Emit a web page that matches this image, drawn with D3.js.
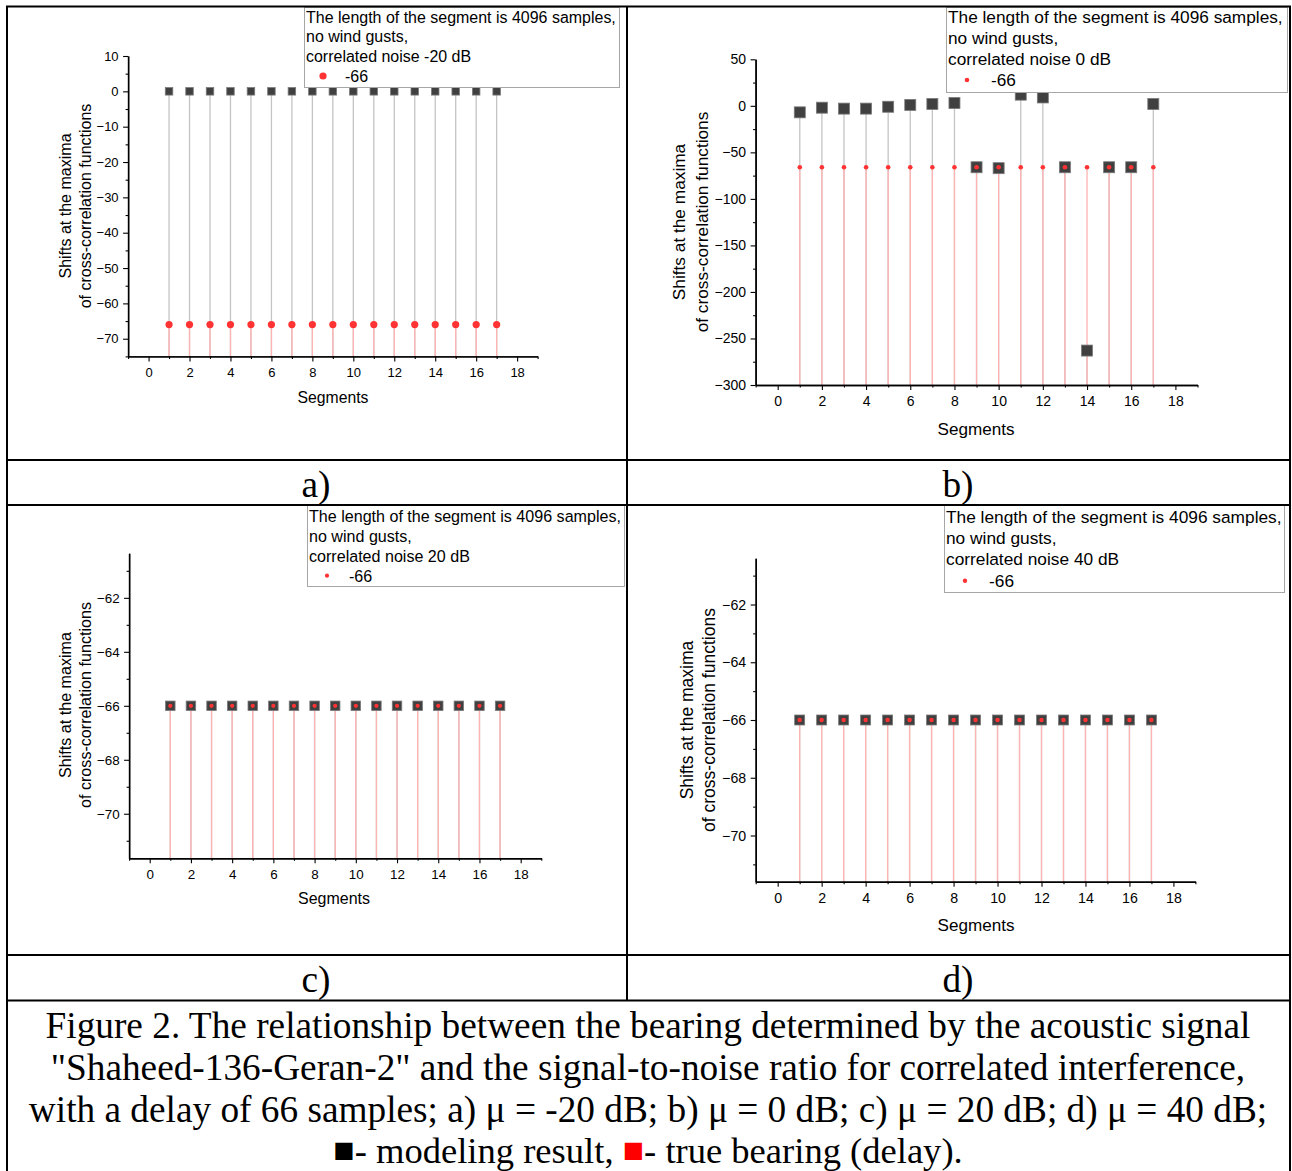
<!DOCTYPE html>
<html><head><meta charset="utf-8">
<script src="https://cdn.jsdelivr.net/npm/d3@7"></script>
<style>
body{margin:0;background:#fff}
svg{display:block}
.sans{font-family:"Liberation Sans",Arial,sans-serif}
.serif{font-family:"Liberation Serif","Times New Roman",serif}
</style>
</head><body>
<svg id="chart" width="1292" height="1171"></svg>
<script>
// ---------------- data ----------------
const segments   = [1,2,3,4,5,6,7,8,9,10,11,12,13,14,15,16,17];
const trueDelay  = [-66,-66,-66,-66,-66,-66,-66,-66,-66,-66,-66,-66,-66,-66,-66,-66,-66];
const resultA    = [0,0,0,0,0,0,0,0,0,0,0,0,0,0,0,0,0];
const resultB    = [-7,-2,-3,-3,-1,1,2,3,-66,-67,12,9,-66,-263,-66,-66,2];
const resultC    = [-66,-66,-66,-66,-66,-66,-66,-66,-66,-66,-66,-66,-66,-66,-66,-66,-66];
const resultD    = [-66,-66,-66,-66,-66,-66,-66,-66,-66,-66,-66,-66,-66,-66,-66,-66,-66];
const xTicks     = [0,2,4,6,8,10,12,14,16,18];
const xMinor     = [-1,1,3,5,7,9,11,13,15,17,19];
const yTicksA    = [10,0,-10,-20,-30,-40,-50,-60,-70];
const yMinorA    = [5,-5,-15,-25,-35,-45,-55,-65,-75];
const yTicksB    = [50,0,-50,-100,-150,-200,-250,-300];
const yMinorB    = [25,-25,-75,-125,-175,-225,-275];
const yTicksCD   = [-62,-64,-66,-68,-70];
const yMinorCD   = [-61,-63,-65,-67,-69,-71];
const noiseLevels = ["-20 dB","0 dB","20 dB","40 dB"];
const legendValue = "-66";
const panelLabels = ["a)","b)","c)","d)"];
const xTitle = "Segments";
const yTitle = ["Shifts at the maxima","of cross-correlation functions"];
const legendHead = ["The length of the segment is 4096 samples,","no wind gusts,"];
const captionLines = [
  "Figure 2. The relationship between the bearing determined by the acoustic signal",
  "\"Shaheed-136-Geran-2\" and the signal-to-noise ratio for correlated interference,",
  "with a delay of 66 samples; a) \u03bc = -20 dB; b) \u03bc = 0 dB; c) \u03bc = 20 dB; d) \u03bc = 40 dB;"
];
const captionLegend = [["\u25A0","#000"],["- modeling result, ","#000"],["\u25A0","#ff0000"],["- true bearing (delay).","#000"]];

// ---------------- layout ----------------
const svg = d3.select("#chart");
svg.append("rect").attr("width",1292).attr("height",1171).attr("fill","#fff");

function measure(txt, size, cls){
  const t = svg.append("text").attr("class",cls).attr("font-size",size).text(txt);
  const w = t.node().getComputedTextLength(); t.remove(); return w;
}
function fit(txt, width, cls){ return 100*width/measure(txt,100,cls); }

const panels = [
  {res:resultA, xr:[128.1,537.6], yr:[356.4,56], dom:[-75,10], yt:yTicksA, ym:yMinorA, sq:7.5, r:3.6,
   box:{x:304,y:7,w:315,h:80}, ly:[10,29.5,49,69], lw:310, dotDx:19, txtDx:41,
   ylx:[64.5,85], yc:206, segX:333, segY:397, segW:71, ylW:205, tfs:13},
  {res:resultB, xr:[755.6,1197.5], yr:[385,59.3], dom:[-300,50], yt:yTicksB, ym:yMinorB, sq:11, r:2.3,
   box:{x:946,y:7,w:341,h:85}, ly:[10,31,52,73], lw:335, dotDx:21, txtDx:45,
   ylx:[678.5,701.7], yc:222, segX:976, segY:429, segW:77, ylW:221, tfs:14},
  {res:resultC, xr:[129.1,541.3], yr:[858.3,553.3], dom:[-71.65,-60.35], yt:yTicksCD, ym:yMinorCD, sq:9.5, r:2.1,
   box:{x:307,y:505,w:317,h:81}, ly:[11,31,50.7,70.7], lw:312, dotDx:20, txtDx:42,
   ylx:[64.5,84.5], yc:705, segX:334, segY:898, segW:72, ylW:206, tfs:13.4},
  {res:resultD, xr:[755.7,1195.4], yr:[881.7,558.3], dom:[-71.6,-60.4], yt:yTicksCD, ym:yMinorCD, sq:10, r:2.2,
   box:{x:944,y:505,w:340,h:87}, ly:[11.7,33,54,75.7], lw:336, dotDx:21, txtDx:45,
   ylx:[687,709], yc:720, segX:976, segY:925, segW:77, ylW:224, tfs:14.2}
];

panels.forEach((p,i)=>{
  const g = svg.append("g").attr("class","sans");
  const x = d3.scaleLinear().domain([-1,19]).range(p.xr);
  const y = d3.scaleLinear().domain(p.dom).range(p.yr);
  const yBot = p.yr[0];

  // drop lines
  g.append("g").selectAll("line").data(segments).join("line")
    .attr("x1",(d)=>x(d)).attr("x2",(d)=>x(d))
    .attr("y1",(d,j)=>y(p.res[j])).attr("y2",yBot)
    .attr("stroke","#c4c4c4").attr("stroke-width",1.3);
  g.append("g").selectAll("line").data(segments).join("line")
    .attr("x1",(d)=>x(d)).attr("x2",(d)=>x(d))
    .attr("y1",(d,j)=>y(trueDelay[j])).attr("y2",yBot)
    .attr("stroke","#ffb3b3").attr("stroke-width",1.3);

  // axes
  const ax = g.append("g").attr("transform",`translate(0,${yBot})`)
    .call(d3.axisBottom(x).tickValues(xTicks).tickSize(5).tickPadding(6).tickSizeOuter(0));
  const axm = g.append("g").attr("transform",`translate(0,${yBot})`)
    .call(d3.axisBottom(x).tickValues(xMinor).tickSize(2.5).tickFormat("").tickSizeOuter(0));
  const ay = g.append("g").attr("transform",`translate(${p.xr[0]},0)`)
    .call(d3.axisLeft(y).tickValues(p.yt).tickSize(5).tickPadding(4.5).tickSizeOuter(0));
  const aym = g.append("g").attr("transform",`translate(${p.xr[0]},0)`)
    .call(d3.axisLeft(y).tickValues(p.ym).tickSize(2.5).tickFormat("").tickSizeOuter(0));
  [ax,axm,ay,aym].forEach(a=>{
    a.attr("font-family",null).attr("font-size",p.tfs);
    a.selectAll(".domain").attr("stroke","#000").attr("stroke-width",1.4);
    a.selectAll(".tick line").attr("stroke","#000").attr("stroke-width",1.1);
    a.selectAll(".tick text").attr("fill","#000");
  });

  // markers
  g.append("g").selectAll("rect").data(segments).join("rect")
    .attr("x",(d)=>x(d)-p.sq/2).attr("y",(d,j)=>y(p.res[j])-p.sq/2)
    .attr("width",p.sq).attr("height",p.sq)
    .attr("fill","#404040").attr("stroke","#7a7a7a").attr("stroke-width",0.8);
  g.append("g").selectAll("circle").data(segments).join("circle")
    .attr("cx",(d)=>x(d)).attr("cy",(d,j)=>y(trueDelay[j])).attr("r",p.r)
    .attr("fill","#ff3333");

  // titles
  const sfs = fit(xTitle,p.segW,"sans");
  g.append("text").attr("x",p.segX).attr("y",p.segY).attr("text-anchor","middle")
    .attr("dominant-baseline","central").attr("font-size",sfs).attr("fill","#000").text(xTitle);
  const yfs = fit(yTitle[1],p.ylW,"sans");
  yTitle.forEach((t,k)=>{
    g.append("text").attr("transform",`translate(${p.ylx[k]},${p.yc}) rotate(-90)`)
      .attr("text-anchor","middle").attr("dominant-baseline","central")
      .attr("font-size",yfs).attr("fill","#000").text(t);
  });

  // legend
  const b = p.box;
  g.append("rect").attr("x",b.x+0.5).attr("y",b.y+0.5).attr("width",b.w).attr("height",b.h)
    .attr("fill","#fff").attr("stroke","#a6a6a6").attr("stroke-width",1);
  const lfs = fit(legendHead[0],p.lw,"sans");
  const lines = [legendHead[0],legendHead[1],"correlated noise "+noiseLevels[i]];
  lines.forEach((t,k)=>{
    g.append("text").attr("x",b.x+2).attr("y",b.y+p.ly[k]).attr("dominant-baseline","central")
      .attr("font-size",lfs).attr("fill","#000").text(t);
  });
  g.append("circle").attr("cx",b.x+p.dotDx).attr("cy",b.y+p.ly[3]).attr("r",p.r).attr("fill","#ff3333");
  g.append("text").attr("x",b.x+p.txtDx).attr("y",b.y+p.ly[3]).attr("dominant-baseline","central")
    .attr("font-size",lfs).attr("fill","#000").text(legendValue);
});

// ---------------- table frame ----------------
const frame = svg.append("g").attr("stroke","#000").attr("stroke-width",2);
[[7,6,7,1171],[1290,6,1290,1171],[6,6.5,1291,6.5],[627,6,627,1000],
 [7,460,1290,460],[7,505,1290,505],[7,955,1290,955],[7,1000.5,1290,1000.5]]
 .forEach(l=>frame.append("line").attr("x1",l[0]).attr("y1",l[1]).attr("x2",l[2]).attr("y2",l[3]));

// labels and caption
const cfs = fit(captionLines[0],1205,"serif");
const labelPos = [[316,484],[958,484],[316,979],[958,979]];
panelLabels.forEach((t,k)=>{
  svg.append("text").attr("class","serif").attr("x",labelPos[k][0]).attr("y",labelPos[k][1])
    .attr("text-anchor","middle").attr("dominant-baseline","central").attr("font-size",cfs).attr("fill","#000").text(t);
});
const capY = [1025,1067,1109,1150];
captionLines.forEach((t,k)=>{
  svg.append("text").attr("class","serif").attr("x",648).attr("y",capY[k])
    .attr("text-anchor","middle").attr("dominant-baseline","central").attr("font-size",cfs).attr("fill","#000").text(t);
});
const last = svg.append("text").attr("class","serif").attr("x",648).attr("y",capY[3])
  .attr("text-anchor","middle").attr("dominant-baseline","central").attr("font-size",cfs*0.98);
captionLegend.forEach(([t,c])=>{
  last.append("tspan").attr("fill",c).attr("font-size",t==="\u25A0"? cfs*0.95 : cfs*0.98).text(t);
});
</script>
</body></html>
